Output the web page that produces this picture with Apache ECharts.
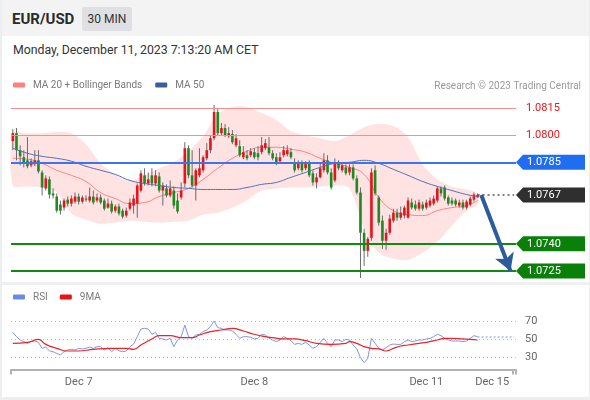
<!DOCTYPE html>
<html><head><meta charset="utf-8">
<script src="https://cdn.jsdelivr.net/npm/echarts/dist/echarts.min.js"></script>
<style>
html,body{margin:0;padding:0;background:#fff;}
#wrap{position:relative;width:590px;height:400px;overflow:hidden;font-family:Roboto,'Liberation Sans',Arial,sans-serif;background:#fff;}
#chart{position:absolute;left:0;top:0;width:590px;height:400px;z-index:2;}
#hdr{position:absolute;left:0;top:0;width:590px;height:36px;background:#f3f3f4;z-index:1;}
#sym{position:absolute;left:12px;top:9px;font-size:15px;font-weight:bold;color:#2b2b2b;line-height:20px;}
#tf{position:absolute;left:82px;top:7px;width:50px;height:24px;background:#dfe0e4;border-radius:2px;font-size:12px;color:#333;line-height:24px;text-align:center;}
#date{position:absolute;left:13px;top:41px;font-size:12.3px;color:#333;line-height:18px;z-index:1;}
#sep{position:absolute;left:0;top:282px;width:590px;height:3px;background:#eef0f2;z-index:1;}
#bl{position:absolute;left:0;top:0;width:2px;height:400px;background:#eceef1;z-index:3;}
#bb{position:absolute;left:0;top:397px;width:590px;height:3px;background:#eceef1;z-index:3;}
#br{position:absolute;left:589px;top:0;width:1px;height:400px;background:#eceef1;z-index:3;}
</style></head>
<body><div id="wrap">
<div id="hdr"><div id="sym">EUR/USD</div><div id="tf">30 MIN</div></div>
<div id="date">Monday, December 11, 2023 7:13:20 AM CET</div>
<div id="sep"></div><div id="bl"></div><div id="bb"></div><div id="br"></div>
<div id="chart"></div>
</div>
<script>
// ---------- data ----------
const slotCount = 138; // 128 half-hour candles + empty forecast slots
const tickIdx = [18, 66, 113, 131];
const tickText = ['Dec 7', 'Dec 8', 'Dec 11', 'Dec 15'];

// candles: [open, close, low, high]
const candles = [
[1.07967,1.08011,1.07917,1.08033],[1.08011,1.07917,1.07861,1.08039],[1.07917,1.07883,1.07833,1.07944],[1.07878,1.07844,1.07822,1.07917],
[1.07861,1.07828,1.07817,1.07989],[1.07833,1.07856,1.07822,1.07872],[1.07839,1.07861,1.07828,1.07917],[1.07861,1.07800,1.07789,1.07917],
[1.07794,1.07711,1.07667,1.07806],[1.07706,1.07761,1.07694,1.07778],[1.07756,1.07672,1.07650,1.07772],[1.07678,1.07667,1.07650,1.07706],
[1.07661,1.07583,1.07572,1.07678],[1.07617,1.07583,1.07561,1.07639],[1.07600,1.07639,1.07583,1.07650],[1.07644,1.07622,1.07606,1.07661],
[1.07622,1.07650,1.07606,1.07667],[1.07633,1.07661,1.07622,1.07683],[1.07661,1.07633,1.07617,1.07678],[1.07633,1.07656,1.07622,1.07667],
[1.07650,1.07644,1.07633,1.07667],[1.07639,1.07661,1.07628,1.07711],[1.07661,1.07628,1.07617,1.07694],[1.07639,1.07656,1.07628,1.07678],
[1.07656,1.07628,1.07617,1.07672],[1.07639,1.07594,1.07583,1.07650],[1.07600,1.07622,1.07594,1.07650],[1.07622,1.07578,1.07567,1.07639],
[1.07583,1.07606,1.07572,1.07617],[1.07606,1.07567,1.07556,1.07622],[1.07583,1.07550,1.07539,1.07594],[1.07556,1.07583,1.07544,1.07600],
[1.07594,1.07628,1.07583,1.07650],[1.07611,1.07650,1.07567,1.07672],[1.07622,1.07722,1.07544,1.07733],[1.07694,1.07789,1.07683,1.07806],
[1.07778,1.07733,1.07722,1.07817],[1.07733,1.07756,1.07722,1.07794],[1.07778,1.07733,1.07717,1.07817],[1.07733,1.07778,1.07717,1.07806],
[1.07772,1.07694,1.07683,1.07794],[1.07694,1.07722,1.07611,1.07739],[1.07706,1.07667,1.07656,1.07728],[1.07667,1.07706,1.07656,1.07750],
[1.07694,1.07611,1.07594,1.07717],[1.07639,1.07578,1.07567,1.07678],[1.07656,1.07694,1.07644,1.07739],[1.07733,1.07928,1.07711,1.07961],
[1.07928,1.07778,1.07761,1.07944],[1.07778,1.07722,1.07711,1.07917],[1.07722,1.07806,1.07639,1.07817],[1.07778,1.07817,1.07767,1.07928],
[1.07806,1.07878,1.07794,1.07889],[1.07872,1.07917,1.07861,1.07956],[1.07917,1.07983,1.07900,1.08000],[1.07983,1.08128,1.07972,1.08167],
[1.08128,1.08011,1.08000,1.08150],[1.08011,1.08039,1.08000,1.08067],[1.08039,1.08000,1.07989,1.08061],[1.07994,1.08011,1.07983,1.08044],
[1.08006,1.07961,1.07950,1.08028],[1.07944,1.07983,1.07933,1.08006],[1.07939,1.07889,1.07878,1.07972],[1.07878,1.07906,1.07867,1.07939],
[1.07889,1.07872,1.07861,1.07917],[1.07889,1.07911,1.07878,1.07928],[1.07906,1.07878,1.07867,1.07928],[1.07900,1.07878,1.07861,1.07939],
[1.07906,1.07944,1.07894,1.07989],[1.07928,1.07956,1.07917,1.07978],[1.07933,1.07900,1.07889,1.07989],[1.07900,1.07872,1.07861,1.07917],
[1.07878,1.07844,1.07833,1.07900],[1.07856,1.07878,1.07844,1.07906],[1.07889,1.07917,1.07878,1.07939],[1.07894,1.07917,1.07883,1.07944],
[1.07906,1.07878,1.07867,1.07928],[1.07850,1.07806,1.07794,1.07872],[1.07817,1.07844,1.07806,1.07861],[1.07844,1.07806,1.07794,1.07861],
[1.07817,1.07844,1.07806,1.07856],[1.07844,1.07778,1.07767,1.07861],[1.07789,1.07739,1.07722,1.07806],[1.07739,1.07767,1.07706,1.07789],
[1.07767,1.07817,1.07761,1.07850],[1.07806,1.07861,1.07794,1.07900],[1.07861,1.07794,1.07783,1.07889],[1.07794,1.07711,1.07700,1.07817],
[1.07750,1.07844,1.07739,1.07872],[1.07844,1.07817,1.07806,1.07861],[1.07806,1.07833,1.07794,1.07850],[1.07822,1.07789,1.07778,1.07839],
[1.07794,1.07822,1.07778,1.07839],[1.07822,1.07761,1.07750,1.07839],[1.07761,1.07683,1.07672,1.07778],[1.07683,1.07461,1.07211,1.07711],
[1.07461,1.07361,1.07278,1.07483],[1.07361,1.07428,1.07328,1.07439],[1.07433,1.07794,1.07417,1.07817],[1.07806,1.07678,1.07667,1.07833],
[1.07656,1.07517,1.07500,1.07667],[1.07528,1.07417,1.07372,1.07556],[1.07417,1.07461,1.07367,1.07483],[1.07461,1.07539,1.07450,1.07561],
[1.07528,1.07572,1.07517,1.07594],[1.07572,1.07544,1.07528,1.07594],[1.07544,1.07572,1.07533,1.07606],[1.07556,1.07600,1.07539,1.07611],
[1.07544,1.07639,1.07539,1.07656],[1.07628,1.07600,1.07589,1.07650],[1.07617,1.07594,1.07583,1.07639],[1.07594,1.07628,1.07583,1.07644],
[1.07617,1.07594,1.07583,1.07633],[1.07600,1.07628,1.07589,1.07644],[1.07611,1.07639,1.07600,1.07656],[1.07622,1.07650,1.07611,1.07667],
[1.07639,1.07706,1.07628,1.07717],[1.07706,1.07678,1.07661,1.07717],[1.07711,1.07650,1.07639,1.07722],[1.07656,1.07622,1.07611,1.07667],
[1.07639,1.07622,1.07611,1.07656],[1.07639,1.07617,1.07606,1.07650],[1.07611,1.07628,1.07600,1.07644],[1.07628,1.07600,1.07589,1.07644],
[1.07600,1.07633,1.07589,1.07644],[1.07617,1.07650,1.07606,1.07661],[1.07644,1.07672,1.07633,1.07683],[1.07656,1.07670,1.07656,1.07678]
];

// indicator sample positions (candle index) and values
const indIdx = [0,4,8,12,16,20,24,28,32,36,40,44,48,52,56,60,64,68,72,76,80,84,88,92,96,100,104,108,112,116,120,124,127];
const bbUpper = [1.08011,1.08011,1.08011,1.08017,1.08011,1.07950,1.07844,1.07783,1.07750,1.07778,1.07817,1.07850,1.07911,1.07994,1.08117,1.08156,1.08156,1.08122,1.08083,1.08022,1.08000,1.07983,1.07967,1.08000,1.08044,1.08061,1.08050,1.07989,1.07839,1.07756,1.07717,1.07700,1.07678];
const bbLower = [1.07722,1.07717,1.07711,1.07683,1.07567,1.07533,1.07511,1.07517,1.07528,1.07522,1.07517,1.07522,1.07528,1.07561,1.07572,1.07600,1.07639,1.07694,1.07706,1.07711,1.07711,1.07717,1.07722,1.07706,1.07483,1.07350,1.07317,1.07311,1.07350,1.07411,1.07500,1.07583,1.07617];
const ma20 = [1.07872,1.07867,1.07844,1.07806,1.07778,1.07744,1.07683,1.07650,1.07622,1.07628,1.07661,1.07683,1.07706,1.07756,1.07817,1.07872,1.07911,1.07933,1.07933,1.07922,1.07906,1.07872,1.07844,1.07822,1.07783,1.07656,1.07583,1.07561,1.07556,1.07583,1.07600,1.07611,1.07639];
const ma50 = [1.07928,1.07900,1.07883,1.07872,1.07856,1.07828,1.07806,1.07783,1.07750,1.07733,1.07722,1.07711,1.07706,1.07700,1.07700,1.07700,1.07711,1.07728,1.07739,1.07767,1.07794,1.07822,1.07844,1.07850,1.07861,1.07844,1.07811,1.07778,1.07744,1.07717,1.07694,1.07672,1.07661];

// key levels
const resistLevels = [1.0815, 1.0800];
const pivotLevel = 1.0785;
const supportLevels = [1.0740, 1.0725];
const targetPrice = 1.0725;

// RSI (one value per candle) and its 9-period MA (sampled)
const rsi = [
57.6,52.9,49.3,47.5,45.6,47.5,48.2,46.7,40.2,41.6,
37.3,36.5,34.7,32.9,36.5,38.4,39.1,38.4,40.2,39.5,
40.2,41.6,40.2,42,42,38.4,40.9,36.5,40.2,37.6,
36.5,37.3,42,44.9,52.9,61.3,62,61.3,55.5,57.6,
51.1,50.4,49.3,51.1,42,49.3,52.9,65.6,52.9,51.1,
54.7,55.5,58.4,60.2,63.8,70,62.7,62,60.2,60.2,
59.1,55.5,51.1,52.9,52.9,52.2,50.4,51.1,55.5,54.7,
51.1,49.3,47.5,49.3,52.9,51.1,48.5,44.5,45.6,44.5,
46.7,43.8,40.2,42,46.7,51.1,45.6,42,49.3,49.3,
47.5,50,49.3,43.8,39.5,30,24.5,29.3,51.1,45.6,
40.2,38.4,40.9,43.8,44.9,44.5,44.5,47.5,49.3,47.5,
48.2,49.3,49.3,50.4,51.1,52.9,55.5,54,51.1,49.3,
48.2,48.2,48.2,47.5,48.2,51.1,54,52.9];
const rsiMaIdx = [0,4,7,9,12,15,18,22,27,31,33,35,38,40,43,46,49,51,54,57,60,63,66,69,71,74,77,80,83,87,91,92,94,96,98,100,102,104,106,108,111,113,116,118,120,123,125,127];
const rsiMaVal = [45.6,46.7,50,44.5,40.2,37.3,37.3,39.1,40.2,40.2,39.1,43.8,50.4,54,54,51.8,51.8,54.7,58.4,60.2,62,59.1,55.5,52.9,51.8,50.4,50.4,48.5,45.6,44.5,45.6,47.5,45.6,42,40.2,39.5,37.3,40.2,42.7,43.8,45.6,46.7,49.3,51.1,51.1,50.4,50,49.3];
const rsiLevels = [70, 50, 30];

// ---------- chart ----------
const FONT = 'Roboto, "Liberation Sans", Arial, sans-serif';
const upColor = '#e6141c', downColor = '#1f8a22';
const cats = Array.from({length: slotCount}, (_, i) => String(i));
const lastIdx = candles.length - 1;
const lastClose = candles[lastIdx][1];
const lastRsi = rsi[rsi.length - 1];

function arrowImg(color) {
  return 'data:image/svg+xml;charset=utf-8,' + encodeURIComponent(
    '<svg xmlns="http://www.w3.org/2000/svg" width="8" height="15"><polygon points="8,0 0,7.5 8,15" fill="' + color + '"/></svg>');
}
function tagLabel(color) {
  return {
    show: true, position: 'end', distance: 0,
    formatter: p => '{a| }{b|' + Number(p.value).toFixed(4) + '}',
    rich: {
      a: {width: 7, height: 15, backgroundColor: {image: arrowImg(color)}},
      b: {backgroundColor: color, color: '#fff', fontSize: 11, fontFamily: FONT, height: 15, lineHeight: 15, width: 58, padding: [0, 0, 0, 4], align: 'left'}
    }
  };
}
function plainLabel(color) {
  return {show: true, position: 'end', distance: 10, color: color, fontSize: 11, fontFamily: FONT,
    formatter: p => Number(p.value).toFixed(4)};
}

const levelLines = [];
resistLevels.forEach(v => levelLines.push({yAxis: v, lineStyle: {color: '#f29090', width: 1, type: 'solid'}, label: plainLabel('#e8141b')}));
levelLines.push({yAxis: pivotLevel, lineStyle: {color: '#3a74ee', width: 2, type: 'solid'}, label: tagLabel('#1f6ef2')});
levelLines.push({yAxis: lastClose, lineStyle: {color: 'rgba(0,0,0,0)', width: 0}, label: tagLabel('#2f2f2f')});
supportLevels.forEach(v => levelLines.push({yAxis: v, lineStyle: {color: '#118a11', width: 2, type: 'solid'}, label: tagLabel('#0a800a')}));
levelLines.push([
  {coord: [lastIdx, lastClose], lineStyle: {color: '#555', width: 1.5, type: [2, 3]}, label: {show: false}},
  {coord: [slotCount - 1, lastClose]}
]);
levelLines.push([
  {coord: [lastIdx + 1, lastClose], symbol: 'none', lineStyle: {color: '#2d5c9b', width: 4, type: 'solid'}, label: {show: false}},
  {coord: [lastIdx + 9, targetPrice], symbol: 'arrow', symbolSize: [15, 17]}
]);

const chart = echarts.init(document.getElementById('chart'), null, {renderer: 'canvas'});
chart.setOption({
  animation: false,
  textStyle: {fontFamily: FONT},
  title: {text: 'Research © 2023 Trading Central', right: 9, top: 81, padding: 0,
    textStyle: {fontSize: 10, color: '#9a9a9a', fontWeight: 'normal', fontFamily: FONT}},
  legend: [
    {left: 13, top: 80, padding: 0, itemWidth: 12, itemHeight: 5, itemGap: 13, icon: 'roundRect',
      textStyle: {color: '#7a7a7a', fontSize: 10, fontFamily: FONT, padding: [0, 0, 0, 3]},
      data: [{name: 'MA 20 + Bollinger Bands', itemStyle: {color: '#ff8080'}}, {name: 'MA 50', itemStyle: {color: '#3a5d9e'}}]},
    {left: 13, top: 292, padding: 0, itemWidth: 12, itemHeight: 5, itemGap: 12, icon: 'roundRect',
      textStyle: {color: '#7a7a7a', fontSize: 10, fontFamily: FONT, padding: [0, 0, 0, 3]},
      data: [{name: 'RSI', itemStyle: {color: '#6b88e6'}}, {name: '9MA', itemStyle: {color: '#ee1111'}}]}
  ],
  grid: [
    {left: 11, width: 505, top: 95.3, height: 188.35},
    {left: 11, width: 505, top: 305.4, height: 64.2}
  ],
  xAxis: [
    {type: 'category', gridIndex: 0, data: cats, boundaryGap: true, show: false},
    {type: 'category', gridIndex: 1, data: cats, boundaryGap: true,
      axisLine: {show: true, lineStyle: {color: '#b3b3b3', width: 2}},
      axisTick: {show: true, length: 5, interval: (i) => i === 0 || i === slotCount - 1, lineStyle: {color: '#b3b3b3', width: 2}},
      axisLabel: {show: true, interval: (i) => tickIdx.includes(i), hideOverlap: false, margin: 7,
        formatter: (v, i) => tickText[tickIdx.indexOf(Number(v))] || '', color: '#666', fontSize: 11, fontFamily: FONT},
      splitLine: {show: false}}
  ],
  yAxis: [
    {type: 'value', gridIndex: 0, min: 1.0718, max: 1.0822, show: false, splitLine: {show: false}},
    {type: 'value', gridIndex: 1, min: 17, max: 87, show: false, splitLine: {show: false}}
  ],
  series: [
    {type: 'custom', name: 'bands', xAxisIndex: 0, yAxisIndex: 0, silent: true, z: 1,
      data: [[0, bbUpper[0]]], encode: {x: 0, y: 1},
      renderItem: (params, api) => {
        const up = indIdx.map((x, k) => api.coord([x, bbUpper[k]]));
        const lo = indIdx.map((x, k) => api.coord([x, bbLower[k]])).reverse();
        return {type: 'polygon', shape: {points: up.concat(lo), smooth: 0.3}, style: {fill: '#ffe3e3'}};
      }},
    {type: 'line', name: 'MA 20 + Bollinger Bands', xAxisIndex: 0, yAxisIndex: 0, z: 3,
      data: indIdx.map((x, k) => [x, ma20[k]]), smooth: true, showSymbol: false, symbol: 'none',
      lineStyle: {color: '#ff7f7f', width: 1}, itemStyle: {color: '#ff8080'}},
    {type: 'custom', name: 'candles', xAxisIndex: 0, yAxisIndex: 0, z: 4,
      data: candles.map((r, i) => [i, r[0], r[1], r[2], r[3]]),
      encode: {x: 0, y: [1, 2, 3, 4]},
      renderItem: (params, api) => {
        const i = api.value(0), o = api.value(1), c = api.value(2), l = api.value(3), h = api.value(4);
        const pH = api.coord([i, h]), pL = api.coord([i, l]), pO = api.coord([i, o]), pC = api.coord([i, c]);
        const bw = api.size([1, 0])[0] * 0.72;
        const top = Math.min(pO[1], pC[1]);
        const ht = Math.max(Math.abs(pO[1] - pC[1]), 1);
        return {type: 'group', children: [
          {type: 'line', shape: {x1: pH[0], y1: pH[1], x2: pL[0], y2: pL[1]}, style: {stroke: '#6a6a6a', lineWidth: 1}},
          {type: 'rect', shape: {x: pO[0] - bw / 2, y: top, width: bw, height: ht}, style: {fill: c >= o ? upColor : downColor}}
        ]};
      }},
    {type: 'line', name: 'MA 50', xAxisIndex: 0, yAxisIndex: 0, z: 5,
      data: indIdx.map((x, k) => [x, ma50[k]]), smooth: true, showSymbol: false, symbol: 'none',
      lineStyle: {color: '#4a6fb8', width: 1}, itemStyle: {color: '#3a5d9e'},
      markLine: {silent: true, symbol: 'none', precision: 5, animation: false, z: 6, data: levelLines}},
    {type: 'line', name: 'RSI', xAxisIndex: 1, yAxisIndex: 1, z: 3,
      data: rsi, showSymbol: false, symbol: 'none',
      lineStyle: {color: '#7d95ea', width: 1}, itemStyle: {color: '#6b88e6'},
      markLine: {silent: true, symbol: 'none', precision: 2, animation: false,
        data: [[{coord: [lastIdx, lastRsi], lineStyle: {color: '#aab8f0', width: 1.5, type: [2, 2]}, label: {show: false}},
                {coord: [slotCount - 1, lastRsi]}]]}},
    {type: 'line', name: '9MA', xAxisIndex: 1, yAxisIndex: 1, z: 4,
      data: rsiMaIdx.map((x, k) => [x, rsiMaVal[k]]), smooth: true, showSymbol: false, symbol: 'none',
      lineStyle: {color: '#ee2222', width: 1.2}, itemStyle: {color: '#ee1111'},
      markLine: {silent: true, symbol: 'none', precision: 2, animation: false, z: 1,
        data: rsiLevels.map(v => ({yAxis: v, lineStyle: {color: '#bdbdbd', width: 1, type: [1, 3]},
          label: {show: true, position: 'end', distance: 9, color: '#666', fontSize: 11, fontFamily: FONT, formatter: String(v)}}))}}
  ]
});
</script>
</body></html>
